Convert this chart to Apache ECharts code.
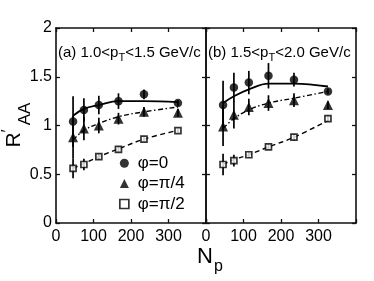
<!DOCTYPE html>
<html><head><meta charset="utf-8">
<script src="https://cdn.jsdelivr.net/npm/echarts@6/dist/echarts.min.js"></script>
<style>html,body{margin:0;padding:0;background:#fff}#c{width:374px;height:281px}</style>
</head><body><div id="c"></div>
<script>
// ---- data ----
const Np = [45.5, 74.4, 114.2, 166.6, 234.6, 325.2];
const phiNames = ['φ=0', 'φ=π/4', 'φ=π/2'];
const xTicks = [0, 100, 200, 300];
const yTicks = [0, 0.5, 1, 1.5, 2];

// panel (a) 1.0<pT<1.5
const a_phi0 = [1.04, 1.16, 1.21, 1.25, 1.32, 1.23];
const a_phi0_err = [0.26, 0.12, 0.095, 0.08, 0.05, 0.03];
const a_phi4 = [0.88, 0.97, 1.00, 1.07, 1.14, 1.13];
const a_phi4_err = [0.22, 0.12, 0.08, 0.06, 0.05, 0.04];
const a_phi2 = [0.56, 0.60, 0.68, 0.756, 0.86, 0.947];
const a_phi2_err = [0.10, 0.06, 0.03, 0.03, 0.02, 0.02];
const a_fit0 = [1.10, 1.17, 1.21, 1.25, 1.25, 1.24];
const a_fit4 = [0.85, 0.95, 1.02, 1.09, 1.14, 1.19];
const a_fit2 = [0.56, 0.61, 0.68, 0.76, 0.86, 0.95];

// panel (b) 1.5<pT<2.0
const b_phi0 = [1.21, 1.39, 1.44, 1.51, 1.47, 1.35];
const b_phi0_err = [0.25, 0.15, 0.12, 0.13, 0.07, 0.03];
const b_phi4 = [0.99, 1.11, 1.19, 1.23, 1.26, 1.21];
const b_phi4_err = [0.20, 0.14, 0.085, 0.08, 0.07, 0.04];
const b_phi2 = [0.60, 0.64, 0.70, 0.78, 0.88, 1.07];
const b_phi2_err = [0.11, 0.06, 0.03, 0.03, 0.03, 0.03];
const b_fit0 = [1.23, 1.30, 1.37, 1.43, 1.43, 1.40];
const b_fit4 = [0.97, 1.07, 1.16, 1.23, 1.28, 1.35];
const b_fit2 = [0.60, 0.65, 0.70, 0.78, 0.88, 1.05];

const panelTitles = [
  ['(a) 1.0<p', 'T', '<1.5 GeV/c'],
  ['(b) 1.5<p', 'T', '<2.0 GeV/c']
];

// ---- chart ----
const FF = '"Liberation Sans", Arial, sans-serif';
const AX = '#111';
const panels = [
  {vals:[a_phi0,a_phi4,a_phi2], errs:[a_phi0_err,a_phi4_err,a_phi2_err], fits:[a_fit0,a_fit4,a_fit2]},
  {vals:[b_phi0,b_phi4,b_phi2], errs:[b_phi0_err,b_phi4_err,b_phi2_err], fits:[b_fit0,b_fit4,b_fit2]}
];
const symbols = [
  {symbol:'circle', size:8.5, itemStyle:{color:'#000'}},
  {symbol:'triangle', size:10, itemStyle:{color:'#000'}},
  {symbol:'rect', size:6, itemStyle:{color:'#fff', borderColor:'#000', borderWidth:1.7}}
];
const lineTypes = [
  {type:'solid', width:1.8},
  {type:[5,2.5,1.5,2.5], width:1.4},
  {type:[5,3.5], width:1.4}
];

const grids = [
  {left:56, top:28, width:150, height:195},
  {left:206, top:28, width:150, height:195}
];
const xAxes = [], yAxes = [];
for (let g = 0; g < 2; g++) {
  ['bottom','top'].forEach((pos, i) => {
    xAxes.push({
      type:'value', gridIndex:g, position:pos, min:0, max:400, interval:100,
      axisLine:{show:true, onZero:false, lineStyle:{color:AX, width:1.6}},
      axisTick:{show:true, inside:true, length:4, lineStyle:{color:AX, width:1.3}},
      splitLine:{show:false},
      axisLabel:{show:i===0, margin:6, color:'#000', fontSize:16, fontFamily:FF,
        formatter: v => xTicks.indexOf(v) >= 0 ? String(v) : ''}
    });
  });
  ['left','right'].forEach((pos, i) => {
    yAxes.push({
      type:'value', gridIndex:g, position:pos, min:0, max:2, interval:0.5,
      axisLine:{show:true, onZero:false, lineStyle:{color:AX, width:1.6}},
      axisTick:{show:true, inside:true, length:4, lineStyle:{color:AX, width:1.3}},
      splitLine:{show:false},
      axisLabel:{show:(g===0 && i===0), margin:4, color:'#000', fontSize:16, fontFamily:FF,
        formatter: v => yTicks.indexOf(v) >= 0 ? String(v) : ''}
    });
  });
}

const series = [];
panels.forEach((p, g) => {
  for (let k = 0; k < 3; k++) {
    series.push({
      type:'line', name:'fit'+g+k, xAxisIndex:g*2, yAxisIndex:g*2,
      data: Np.map((x,i)=>[x, p.fits[k][i]]), smooth:0.4, showSymbol:false, symbol:'none',
      lineStyle:{color:'#000', width:lineTypes[k].width, type:lineTypes[k].type}, z:2, silent:true
    });
    series.push({
      type:'custom', name:'err'+g+k, xAxisIndex:g*2, yAxisIndex:g*2,
      data: Np.map((x,i)=>[x, p.vals[k][i], p.errs[k][i]]),
      encode:{x:0, y:1}, z:3, silent:true,
      renderItem:(params, api) => {
        const x = api.value(0), y = api.value(1), e = api.value(2);
        const t = api.coord([x, y+e]), b = api.coord([x, y-e]);
        return {type:'line', shape:{x1:t[0], y1:t[1], x2:b[0], y2:b[1]}, style:{stroke:'#000', lineWidth:1.7}};
      }
    });
    series.push({
      type:'scatter', name:phiNames[k], xAxisIndex:g*2, yAxisIndex:g*2,
      data: Np.map((x,i)=>[x, p.vals[k][i]]),
      symbol:symbols[k].symbol, symbolSize:symbols[k].size, itemStyle:symbols[k].itemStyle, z:4
    });
  }
});

const graphic = [];
panelTitles.forEach((t, g) => {
  graphic.push({
    type:'text', x: g===0 ? 58 : 208, y:53,
    style:{
      text:'{m|'+t[0]+'}{s|'+t[1]+'}{m|'+t[2]+'}',
      rich:{m:{fontSize:15, fontFamily:FF, fill:'#000'}, s:{fontSize:11, fontFamily:FF, fill:'#000', padding:[10,0,0,0]}},
      verticalAlign:'middle', align:'left'
    }
  });
});
// x axis title N_p
graphic.push({type:'text', x:205, y:256.5, style:{text:'N', fontSize:22, fontFamily:FF, fill:'#000', align:'center', verticalAlign:'middle'}});
graphic.push({type:'text', x:218.5, y:266.5, style:{text:'p', fontSize:16, fontFamily:FF, fill:'#000', align:'center', verticalAlign:'middle'}});
// y axis title R'_AA (rotated)
graphic.push({type:'text', x:14.5, y:140, rotation:Math.PI/2, style:{text:'R', fontSize:21, fontFamily:FF, fill:'#000', align:'center', verticalAlign:'middle'}});
graphic.push({type:'text', x:8, y:131, rotation:Math.PI/2, style:{text:'′', fontSize:17, fontFamily:FF, fill:'#000', align:'center', verticalAlign:'middle'}});
graphic.push({type:'text', x:25.5, y:114, rotation:Math.PI/2, style:{text:'AA', fontSize:17, fontFamily:FF, fill:'#000', align:'center', verticalAlign:'middle'}});

const option = {
  backgroundColor:'#fff',
  animation:false,
  color:['#000'],
  grid:grids, xAxis:xAxes, yAxis:yAxes, series:series,
  legend:{
    orient:'vertical', left:119, top:153, padding:0, itemGap:0,
    itemWidth:9, itemHeight:9, selectedMode:false,
    textStyle:{fontSize:17, lineHeight:20.4, fontFamily:FF, color:'#000', padding:[0,0,0,4]},
    data:[
      {name:phiNames[0], icon:'circle', itemStyle:{color:'#000'}},
      {name:phiNames[1], icon:'triangle', itemStyle:{color:'#000'}},
      {name:phiNames[2], icon:'path://M0,0L7,0L7,7L0,7Z', itemStyle:{color:'#fff', borderColor:'#000', borderWidth:1.7}}
    ]
  },
  graphic:graphic
};
const chart = echarts.init(document.getElementById('c'), null, {renderer:'canvas'});
chart.setOption(option);
</script></body></html>
